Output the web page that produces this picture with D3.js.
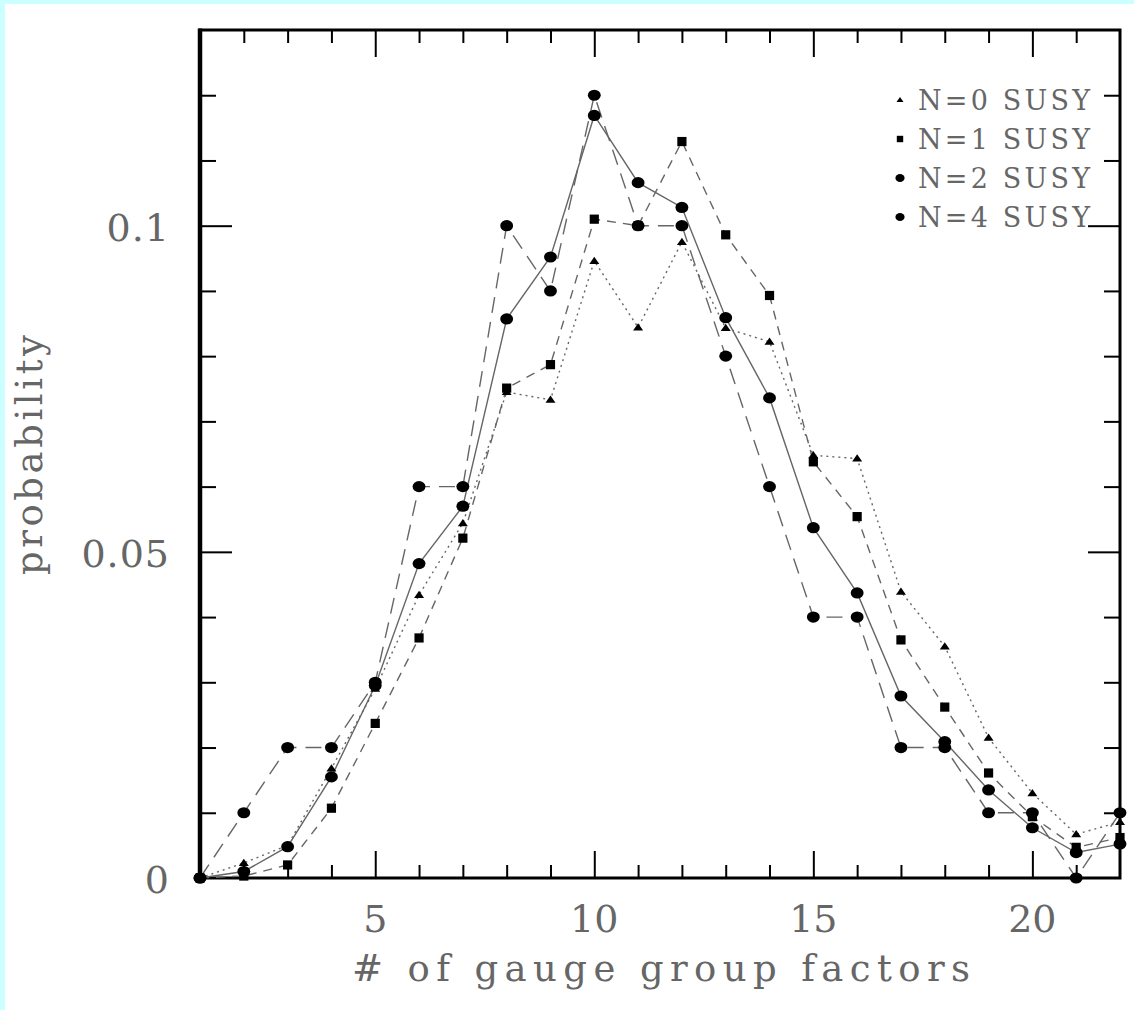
<!DOCTYPE html>
<html>
<head>
<meta charset="utf-8">
<script src="https://cdn.jsdelivr.net/npm/d3@7"></script>
<style>
  html, body { margin: 0; padding: 0; background: #ccffff; }
  svg { display: block; }
  .lbl { font-family: "DejaVu Serif", "Liberation Serif", serif; fill: #666; }
</style>
</head>
<body>
<div id="vis-container"></div>
<script>
let width = 1134;
let height = 1010;

// number of gauge group factors (x)
let factors = d3.range(1, 23);

// probability, one array per series
let n0_susy = [0, 0.0023, 0.005, 0.0168, 0.029, 0.0434, 0.0544, 0.0745, 0.0733, 0.0946, 0.0844,
               0.0975, 0.0843, 0.0822, 0.0648, 0.0643, 0.0439, 0.0355, 0.0215, 0.013, 0.0067, 0.0086];
let n1_susy = [0, 0.0003, 0.002, 0.0107, 0.0237, 0.0368, 0.0521, 0.0751, 0.0787, 0.101, 0.1,
               0.1129, 0.0986, 0.0893, 0.0638, 0.0554, 0.0365, 0.0262, 0.0161, 0.0094, 0.0047, 0.0062];
let n2_susy = [0, 0.001, 0.0048, 0.0155, 0.0295, 0.0482, 0.057, 0.0857, 0.0952, 0.1169, 0.1066,
               0.1028, 0.0859, 0.0736, 0.0537, 0.0437, 0.0279, 0.0209, 0.0135, 0.0077, 0.0039, 0.0052];
let n4_susy = [0, 0.01, 0.02, 0.02, 0.03, 0.06, 0.06, 0.10, 0.09, 0.12, 0.10,
               0.10, 0.08, 0.06, 0.04, 0.04, 0.02, 0.02, 0.01, 0.01, 0, 0.01];

let series_names = ["N=0  SUSY", "N=1  SUSY", "N=2  SUSY", "N=4  SUSY"];
let series_values = [n0_susy, n1_susy, n2_susy, n4_susy];
let series_marks = ["triangle", "square", "circle", "circle"];
let series_dash = ["2,4", "9,7", null, "16,9"];

let x_ticks = [5, 10, 15, 20];
let y_ticks = [0, 0.05, 0.1];
let y_tick_labels = ["0", "0.05", "0.1"];

let svg = d3.select("#vis-container").append("svg")
            .attr("width", width)
            .attr("height", height);

// white page with cyan strip at top and left
svg.append("rect")
    .attr("x", 5).attr("y", 4)
    .attr("width", width - 5).attr("height", height - 4)
    .attr("fill", "#fff");

let x = d3.scaleLinear().domain([1, 22]).range([200, 1120]);
let y = d3.scaleLinear().domain([0, 0.13]).range([878, 30]);

let minor_x = factors.filter(d => x_ticks.indexOf(d) < 0 && d > 1 && d < 22);
let minor_y = d3.range(1, 13).map(d => d / 100).filter(d => Math.abs(d - 0.05) > 1e-9 && Math.abs(d - 0.1) > 1e-9);

function tick_axis(axis, ty, tx) {
  let g = svg.append("g").attr("transform", "translate(" + tx + "," + ty + ")").call(axis);
  g.select(".domain").remove();
  g.selectAll("line").attr("stroke", "#000").attr("stroke-width", 2);
  return g;
}

// inward ticks on all four sides
tick_axis(d3.axisBottom(x).tickValues(minor_x).tickSize(-13).tickFormat(""), 878, 0);
tick_axis(d3.axisBottom(x).tickValues(x_ticks).tickSize(-27).tickFormat(""), 878, 0);
tick_axis(d3.axisTop(x).tickValues(minor_x).tickSize(-13).tickFormat(""), 30, 0);
tick_axis(d3.axisTop(x).tickValues(x_ticks).tickSize(-27).tickFormat(""), 30, 0);
tick_axis(d3.axisLeft(y).tickValues(minor_y).tickSize(-16).tickFormat(""), 0, 200);
tick_axis(d3.axisLeft(y).tickValues([0.05, 0.1]).tickSize(-32).tickFormat(""), 0, 200);
tick_axis(d3.axisRight(y).tickValues(minor_y).tickSize(-16).tickFormat(""), 0, 1120);
tick_axis(d3.axisRight(y).tickValues([0.05, 0.1]).tickSize(-32).tickFormat(""), 0, 1120);

// frame
svg.append("rect")
    .attr("x", x(1)).attr("y", y(0.13))
    .attr("width", x(22) - x(1)).attr("height", y(0) - y(0.13))
    .attr("fill", "none").attr("stroke", "#000").attr("stroke-width", 3);
svg.append("line")
    .attr("x1", x(1)).attr("x2", x(1)).attr("y1", y(0.13) - 1.5).attr("y2", y(0) + 1.5)
    .attr("stroke", "#000").attr("stroke-width", 4.5);

// tick labels
svg.selectAll("text.xt").data(x_ticks).enter().append("text")
    .attr("class", "lbl xt")
    .attr("x", d => x(d)).attr("y", 932)
    .attr("text-anchor", "middle")
    .style("font-size", "38px").style("font-weight", "200")
    .text(d => d);

svg.selectAll("text.yt").data(y_ticks).enter().append("text")
    .attr("class", "lbl yt")
    .attr("x", 170).attr("y", d => y(d) + 15)
    .attr("text-anchor", "end")
    .style("font-size", "38px").style("letter-spacing", "1px")
    .text((d, i) => y_tick_labels[i]);

// axis titles
svg.append("text")
    .attr("class", "lbl")
    .attr("x", 352).attr("y", 981)
    .attr("textLength", 618).attr("lengthAdjust", "spacing")
    .style("font-size", "37px")
    .text("# of gauge group factors");

svg.append("text")
    .attr("class", "lbl")
    .attr("transform", "translate(42,575) rotate(-90)")
    .attr("textLength", 240).attr("lengthAdjust", "spacing")
    .style("font-size", "37px")
    .text("probability");

// lines
let line = d3.line().x((d, i) => x(factors[i])).y(d => y(d));

series_values.forEach(function(vals, s) {
  svg.append("path")
      .datum(vals)
      .attr("d", line)
      .attr("fill", "none")
      .attr("stroke", "#666")
      .attr("stroke-width", 1.4)
      .attr("stroke-dasharray", series_dash[s]);
});

function draw_mark(g, kind, cx, cy, size) {
  if (kind === "triangle") {
    g.append("path")
        .attr("d", "M" + cx + "," + (cy - size * 0.85) + "L" + (cx + size) + "," + (cy + size * 0.6) +
                   "L" + (cx - size) + "," + (cy + size * 0.6) + "Z")
        .attr("fill", "#000");
  } else if (kind === "square") {
    g.append("rect")
        .attr("x", cx - size).attr("y", cy - size)
        .attr("width", size * 2).attr("height", size * 2)
        .attr("fill", "#000");
  } else {
    g.append("ellipse")
        .attr("cx", cx).attr("cy", cy)
        .attr("rx", size * 1.15).attr("ry", size)
        .attr("fill", "#000");
  }
}

// markers
let marks = svg.append("g");
series_values.forEach(function(vals, s) {
  vals.forEach(function(v, i) {
    let size = series_marks[s] === "triangle" ? 5 : (series_marks[s] === "square" ? 4.6 : 5.6);
    draw_mark(marks, series_marks[s], x(factors[i]), y(v), size);
  });
});

// legend
let legend = svg.append("g");
series_names.forEach(function(name, i) {
  let ly = 100 + i * 39;
  let size = series_marks[i] === "triangle" ? 3.5 : (series_marks[i] === "square" ? 3.2 : 4);
  draw_mark(legend, series_marks[i], 900, ly, size);
  legend.append("text")
      .attr("class", "lbl")
      .attr("x", 918).attr("y", ly + 10)
      .attr("textLength", 172).attr("lengthAdjust", "spacing")
      .style("font-size", "27px")
      .text(name);
});
</script>
</body>
</html>
